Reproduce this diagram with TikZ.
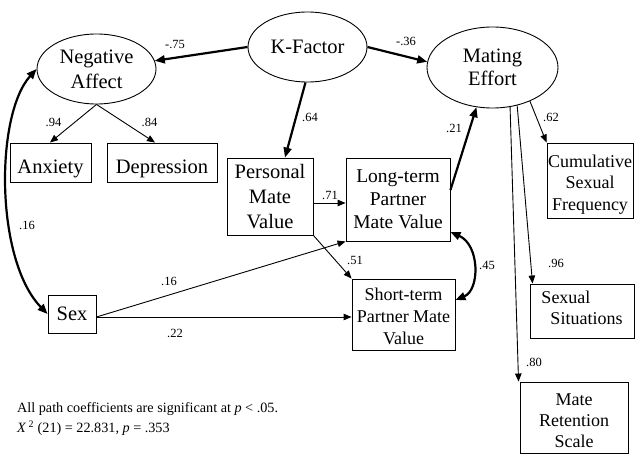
\documentclass[tikz,border=0pt]{standalone}
\usepackage{fontspec}
\setmainfont{Liberation Serif}
\usetikzlibrary{shapes.geometric,arrows.meta,calc}
\newcommand\fsz[2]{\fontsize{#1}{#2}\selectfont}
\newcommand\upr[1]{\rule{0pt}{#1pt}}
\newcommand\dnr[1]{\rule[-#1pt]{0pt}{#1pt}}
\begin{document}
\begin{tikzpicture}[x=1pt,y=-1pt,
  lat/.style={ellipse,draw,line width=0.9pt,inner sep=0pt,align=center},
  box/.style={rectangle,draw,line width=0.9pt,inner sep=0pt,align=center},
  coef/.style={font=\fsz{12.5}{14},inner sep=0pt},
  thk/.style={line width=2.2pt,-{Triangle[length=10pt,width=8pt]}},
  thn/.style={line width=0.9pt,-{Triangle[length=8pt,width=6.5pt]}},
  dbl/.style={line width=2.2pt,{Triangle[length=10pt,width=8pt]}-{Triangle[length=10pt,width=8pt]}},
  captext/.style={font=\fsz{14.2}{20},inner sep=0pt,anchor=base west}]
\useasboundingbox (0,0) rectangle (641,473);

% latent variables
\node[lat,minimum width=119pt,minimum height=70pt,font=\fsz{20.5}{25}] (na) at (96.5,69) {Negative\\Affect};
\node[lat,minimum width=119pt,minimum height=70pt,font=\fsz{20.5}{25}] (kf) at (307.5,47) {K-Factor};
\node[lat,minimum width=131pt,minimum height=81pt,font=\fsz{20.5}{23}] (me) at (492.5,67.5) {Mating\\Effort};

% observed variables
\node[box,minimum width=81pt,minimum height=39pt,font=\fsz{20.5}{25}] (anx) at (50.5,162.5) {\upr{25.5}Anxiety};
\node[box,minimum width=110pt,minimum height=39pt,font=\fsz{20.5}{25}] (dep) at (162,162.5) {\upr{25.5}Depression};
\node[box,minimum width=86pt,minimum height=77pt,font=\fsz{20.5}{25}] (pmv) at (270,196.5) {Personal\\Mate\\Value};
\node[box,minimum width=104pt,minimum height=83pt,font=\fsz{19.5}{23}] (lt) at (398,199.5) {Long-term\\Partner\\Mate Value};
\node[box,minimum width=103pt,minimum height=71pt,font=\fsz{18}{22}] (st) at (403.5,314.5) {\upr{17}Short-term\\Partner Mate\\Value};
\node[box,minimum width=48pt,minimum height=38pt,font=\fsz{20.5}{25}] (sex) at (72,314) {Sex};
\node[box,minimum width=86pt,minimum height=75pt,font=\fsz{18}{21.5}] (cum) at (590,180.5) {\upr{20}Cumulative\\Sexual\\Frequency};
\node[box,minimum width=104pt,minimum height=54pt,font=\fsz{18}{21},align=left] (ss) at (582,311) {Sexual\\\hspace*{9pt}Situations\dnr{7.3}};
\node[box,minimum width=108pt,minimum height=71pt,font=\fsz{18}{21}] (mr) at (574,417.5) {\upr{19}Mate\\Retention\\Scale};

% paths
\draw[thk] (kf.west) -- (na.8);
\draw[thk] (kf.east) -- (me.175);
\draw[thk] ([xshift=-2pt]kf.south) -- ([xshift=15pt]pmv.north);
\draw[thn] (na.south) -- ([xshift=-0.5pt]anx.north);
\draw[thn] (na.south) -- ([xshift=-7pt]dep.north);
\draw[thn] ([yshift=-6.5pt]pmv.east) -- ([yshift=-3.5pt]lt.west);
\draw[thn] (pmv.south east) -- (st.north west);
\draw[thk] ([yshift=9.5pt]lt.east) -- (me.248);
\draw[thn] ([yshift=-3pt]sex.east) -- (lt.south west);
\draw[thn] ([yshift=-3pt]sex.east) -- ([yshift=-2.5pt]st.west);
\draw[thn] (me.318) -- (cum.north west);
\draw[thn] (me.303) -- ([xshift=3pt]ss.north west);
\draw[thn] (me.294) -- ([xshift=-1pt]mr.north west);
\draw[dbl] (na.west) .. controls (-5,115) and (-5,260) .. (sex.west);
\draw[dbl] ([yshift=-32.5pt]lt.east) .. controls (480,245) and (480,290) .. ([yshift=14.5pt]st.east);

% coefficients
\node[coef] (c1) at (175,44) {-.75};
\node[coef] (c2) at (406,41) {-.36};
\node[coef] (c3) at (310,117) {.64};
\node[coef] (c4) at (53.5,122) {.94};
\node[coef] (c5) at (149.5,122) {.84};
\node[coef] (c6) at (330,195) {.71};
\node[coef] (c7) at (355,260) {.51};
\node[coef] (c8) at (454,128) {.21};
\node[coef] (c9) at (551,117) {.62};
\node[coef] (c10) at (556,263) {.96};
\node[coef] (c11) at (534,362) {.80};
\node[coef] (c12) at (27,225) {.16};
\node[coef] (c13) at (169,281) {.16};
\node[coef] (c14) at (175,333) {.22};
\node[coef] (c15) at (487,265) {.45};

% caption
\node[captext] (t1) at (17,413) {All path coefficients are significant at \textit{p} < .05.};
\node[captext] (t2) at (17,433) {\textit{X}\,\textsuperscript{2} (21) = 22.831, \textit{p} = .353};
\end{tikzpicture}
\end{document}
